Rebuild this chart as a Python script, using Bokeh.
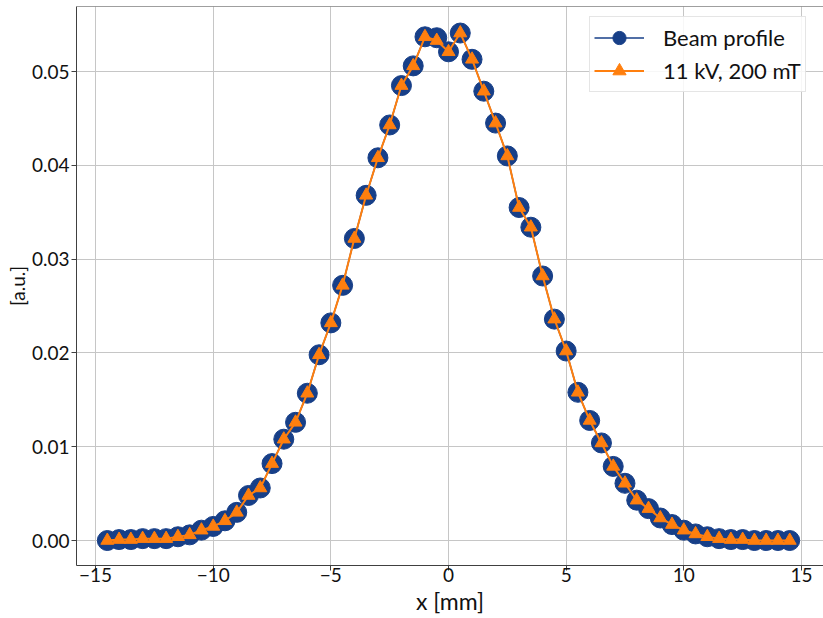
from bokeh.plotting import figure
from bokeh.models import (Range1d, FixedTicker, NumeralTickFormatter, Legend, LegendItem,
                          Span, Title)
from bokeh.embed import file_html
from bokeh.resources import INLINE

x_mm = [-14.5, -14.0, -13.5, -13.0, -12.5, -12.0, -11.5, -11.0, -10.5, -10.0,
        -9.5, -9.0, -8.5, -8.0, -7.5, -7.0, -6.5, -6.0, -5.5, -5.0,
        -4.5, -4.0, -3.5, -3.0, -2.5, -2.0, -1.5, -1.0, -0.5, 0.0,
        0.5, 1.0, 1.5, 2.0, 2.5, 3.0, 3.5, 4.0, 4.5, 5.0,
        5.5, 6.0, 6.5, 7.0, 7.5, 8.0, 8.5, 9.0, 9.5, 10.0,
        10.5, 11.0, 11.5, 12.0, 12.5, 13.0, 13.5, 14.0, 14.5]

beam_profile = [0.0000, 0.0001, 0.0001, 0.0002, 0.0002, 0.0002, 0.0004, 0.0006, 0.0011, 0.0015,
                0.0021, 0.0030, 0.0048, 0.0056, 0.0082, 0.0108, 0.0126, 0.0157, 0.0198, 0.0232,
                0.0272, 0.0322, 0.0368, 0.0408, 0.0443, 0.0485, 0.0506, 0.0537, 0.0536, 0.0521,
                0.0541, 0.0513, 0.0479, 0.0445, 0.0410, 0.0355, 0.0334, 0.0282, 0.0236, 0.0202,
                0.0158, 0.0128, 0.0104, 0.0079, 0.0061, 0.0043, 0.0034, 0.0024, 0.0017, 0.0011,
                0.0007, 0.0004, 0.0002, 0.0001, 0.0001, 0.0000, 0.0000, 0.0000, 0.0000]

sim_11kv_200mt = [0.0000, 0.0001, 0.0001, 0.0002, 0.0002, 0.0002, 0.0004, 0.0006, 0.0011, 0.0015,
                  0.0021, 0.0030, 0.0048, 0.0056, 0.0082, 0.0108, 0.0126, 0.0157, 0.0198, 0.0232,
                  0.0272, 0.0322, 0.0368, 0.0408, 0.0443, 0.0485, 0.0506, 0.0537, 0.0533, 0.0521,
                  0.0541, 0.0513, 0.0479, 0.0445, 0.0410, 0.0355, 0.0334, 0.0282, 0.0236, 0.0202,
                  0.0158, 0.0128, 0.0104, 0.0079, 0.0061, 0.0043, 0.0034, 0.0024, 0.0017, 0.0011,
                  0.0007, 0.0004, 0.0002, 0.0001, 0.0001, 0.0000, 0.0000, 0.0000, 0.0000]

x_ticks = [-15, -10, -5, 0, 5, 10, 15]
x_tick_labels = ["\u221215", "\u221210", "\u22125", "0", "5", "10", "15"]
y_ticks = [0.0, 0.01, 0.02, 0.03, 0.04, 0.05]

BLUE = "#173f88"
ORANGE = "#ff7f0e"
FONT = "Lato"
TICK_FS = "19px"
XLABEL_FS = "23px"
YLABEL_FS = "19px"
LEGEND_FS = "22px"
TEXT = "#111111"
SPINE = "#404040"

x_start, x_end = -15.81, 15.937
y_start, y_end = -0.002665, 0.05693

p = figure(width=823, height=618, output_backend="svg", toolbar_location=None,
           x_range=Range1d(x_start, x_end), y_range=Range1d(y_start, y_end),
           min_border_left=76, min_border_right=0, min_border_top=6, min_border_bottom=53)
p.outline_line_color = None
p.background_fill_color = "white"
p.border_fill_color = "white"

for ax in (p.xaxis[0], p.yaxis[0]):
    ax.axis_line_color = SPINE
    ax.axis_line_width = 1
    ax.major_tick_line_color = SPINE
    ax.major_tick_out = 5
    ax.major_tick_in = 0
    ax.minor_tick_line_color = None
    ax.major_label_text_font = FONT
    ax.major_label_text_font_size = TICK_FS
    ax.major_label_text_color = TEXT
    ax.axis_label_text_font = FONT
    ax.axis_label_text_font_style = "normal"
    ax.axis_label_text_color = TEXT

p.xaxis.ticker = FixedTicker(ticks=x_ticks)
p.xaxis.major_label_overrides = {t: lab for t, lab in zip(x_ticks, x_tick_labels)}
p.xaxis.axis_label = "x [mm]"
p.xaxis.axis_label_text_font_size = XLABEL_FS
p.xaxis.major_label_standoff = -3
p.xaxis.axis_label_standoff = 2

p.yaxis.ticker = FixedTicker(ticks=y_ticks)
p.yaxis.formatter = NumeralTickFormatter(format="0.00")
p.yaxis.major_label_standoff = 2

# y-axis title as a side title, outside the tick labels
y_title = Title(text="[a.u.]", align="center", standoff=0, offset=0,
                text_font=FONT, text_font_size=YLABEL_FS, text_font_style="normal",
                text_color=TEXT)
p.add_layout(y_title, "left")

p.xgrid.ticker = FixedTicker(ticks=x_ticks)
p.ygrid.ticker = FixedTicker(ticks=y_ticks)
for g in (p.xgrid[0], p.ygrid[0]):
    g.grid_line_color = "#c6c6c6"
    g.grid_line_width = 1

top_spine = Span(location=y_end, dimension="width", line_color=SPINE, line_width=1)
p.add_layout(top_spine)

beam_line = p.line(x_mm, beam_profile, line_color=BLUE, line_width=1.5)
beam_pts = p.scatter(x_mm, beam_profile, marker="circle", size=20,
                     fill_color=BLUE, line_color=BLUE)
sim_line = p.line(x_mm, sim_11kv_200mt, line_color=ORANGE, line_width=2)
sim_pts = p.scatter(x_mm, sim_11kv_200mt, marker="triangle", size=13,
                    fill_color=ORANGE, line_color=ORANGE)

legend = Legend(items=[LegendItem(label="Beam profile", renderers=[beam_line, beam_pts]),
                       LegendItem(label="11 kV, 200 mT", renderers=[sim_line, sim_pts])],
                location=(513, 473), glyph_width=50, glyph_height=33, spacing=0,
                padding=4, margin=0, label_standoff=19,
                label_text_font=FONT, label_text_font_size=LEGEND_FS, label_text_color=TEXT,
                border_line_color="#cccccc", border_line_width=1,
                background_fill_color="white", background_fill_alpha=0.85)
p.add_layout(legend)

open("out.html", "w").write(file_html(p, INLINE))
